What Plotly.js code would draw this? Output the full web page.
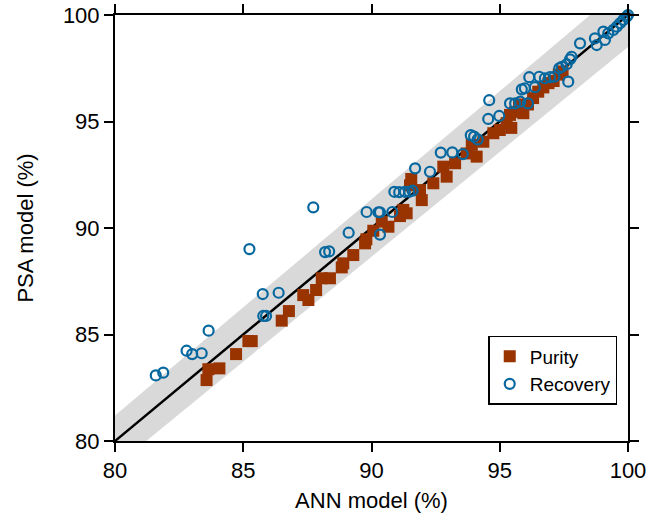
<!DOCTYPE html>
<html>
<head>
<meta charset="utf-8">
<script src="https://cdn.plot.ly/plotly-3.0.1.min.js"></script>
<style>html,body{margin:0;padding:0;background:#fff;}#chart{width:649px;height:523px;}</style>
</head>
<body>
<div id="chart"></div>
<script>
// Purity (ANN model %, PSA model %)
const purityX = [83.57,83.64,84.07,84.72,85.20,85.33,86.50,86.78,87.34,87.54,87.84,88.06,88.38,88.84,88.90,89.29,89.75,89.80,90.07,90.40,90.66,91.11,91.24,91.37,91.50,91.55,91.89,91.96,92.41,92.80,92.93,93.26,93.71,93.91,94.10,94.36,94.75,95.00,95.27,95.40,95.45,95.60,95.75,95.92,96.10,96.30,96.50,96.70,96.90,97.10,97.30,97.45];
const purityY = [82.86,83.37,83.41,84.08,84.69,84.69,85.65,86.10,86.85,86.62,87.09,87.64,87.64,88.15,88.34,88.73,89.28,89.47,89.87,90.30,90.06,90.56,90.85,90.69,92.00,92.30,91.78,91.31,92.10,92.88,92.41,93.04,93.50,93.90,93.35,94.05,94.45,94.60,94.92,95.31,94.70,95.45,95.80,95.39,95.80,96.10,96.40,96.60,96.80,96.90,97.20,97.35];

// Recovery (ANN model %, PSA model %)
const recoveryX = [81.59,81.88,82.79,83.01,83.38,83.65,85.24,85.76,85.78,85.89,86.38,87.73,88.19,88.35,89.11,89.81,90.27,90.33,90.33,90.81,90.89,91.08,91.30,91.47,91.60,91.70,92.28,92.70,93.15,93.56,93.87,94.00,94.14,94.55,94.98,94.59,95.40,95.60,95.80,96.10,95.86,95.98,96.37,96.15,96.54,96.76,96.96,97.13,97.32,97.42,97.61,97.67,97.74,97.80,98.13,98.71,98.78,99.04,99.10,99.23,99.43,99.56,99.69,99.82,99.95,100.00];
const recoveryY = [83.08,83.21,84.24,84.08,84.12,85.18,89.01,86.90,85.87,85.87,86.96,90.97,88.87,88.90,89.78,90.75,90.74,90.74,89.69,90.75,91.70,91.68,91.70,91.70,91.75,92.80,92.64,93.54,93.55,93.47,94.36,94.29,94.16,95.12,95.26,96.00,95.85,95.85,95.93,95.85,96.51,96.56,96.61,97.08,97.10,97.03,97.08,97.10,97.50,97.57,97.69,96.87,97.92,98.04,98.67,98.90,98.59,99.22,98.83,99.14,99.30,99.45,99.61,99.77,99.92,100.00];

// Reference band (±1.5 %) and parity line
const bandX = [80, 100];
const bandUpper = [81.2, 101.5];
const bandLower = [78.8, 98.5];
const parityX = [80, 100];
const parityY = [80, 100];

const tickVals = [80, 85, 90, 95, 100];
const tickText = ["80", "85", "90", "95", "100"];

const FONT = "Liberation Sans, Arial, Helvetica, sans-serif";

const traces = [
  {x: bandX, y: bandLower, mode: "lines", line: {width: 0, color: "rgba(0,0,0,0)"}, showlegend: false, hoverinfo: "skip"},
  {x: bandX, y: bandUpper, mode: "lines", line: {width: 0, color: "rgba(0,0,0,0)"}, fill: "tonexty", fillcolor: "#d9d9d9", showlegend: false, hoverinfo: "skip"},
  {x: parityX, y: parityY, mode: "lines", line: {color: "#000", width: 2.5}, showlegend: false},
  {x: purityX, y: purityY, mode: "markers", name: "Purity", cliponaxis: false,
   marker: {symbol: "square", size: 12, color: "#993300", line: {width: 0}}},
  {x: recoveryX, y: recoveryY, mode: "markers", name: "Recovery", cliponaxis: false,
   marker: {symbol: "circle-open", size: 10, color: "#07679f", line: {width: 2.2, color: "#07679f"}}}
];

const axisCommon = {
  range: [80, 100], autorange: false,
  tickvals: tickVals, ticktext: tickText,
  showline: true, linecolor: "#000", linewidth: 2,
  mirror: "ticks", ticks: "outside", ticklen: 9, tickwidth: 2, tickcolor: "#000",
  showgrid: false, zeroline: false,
  tickfont: {family: FONT, size: 22, color: "#000"}
};

const layout = {
  width: 649, height: 523,
  margin: {l: 115, r: 21, t: 15, b: 82},
  paper_bgcolor: "#fff", plot_bgcolor: "#fff",
  font: {family: FONT, size: 22, color: "#000"},
  xaxis: Object.assign({}, axisCommon, {title: {text: "ANN model (%)", font: {family: FONT, size: 22, color: "#000"}, standoff: 10}}),
  yaxis: Object.assign({}, axisCommon, {title: {text: "PSA model (%)", font: {family: FONT, size: 22, color: "#000"}, standoff: 23}}),
  legend: {
    x: 0.979, xanchor: "right", y: 0.085, yanchor: "bottom",
    traceorder: "normal",
    bgcolor: "#fff", bordercolor: "#000", borderwidth: 1.5,
    font: {family: FONT, size: 19, color: "#000"},
    itemwidth: 30, tracegroupgap: 0
  },
  showlegend: true
};

Plotly.newPlot("chart", traces, layout, {displayModeBar: false, staticPlot: true});
</script>
</body>
</html>
